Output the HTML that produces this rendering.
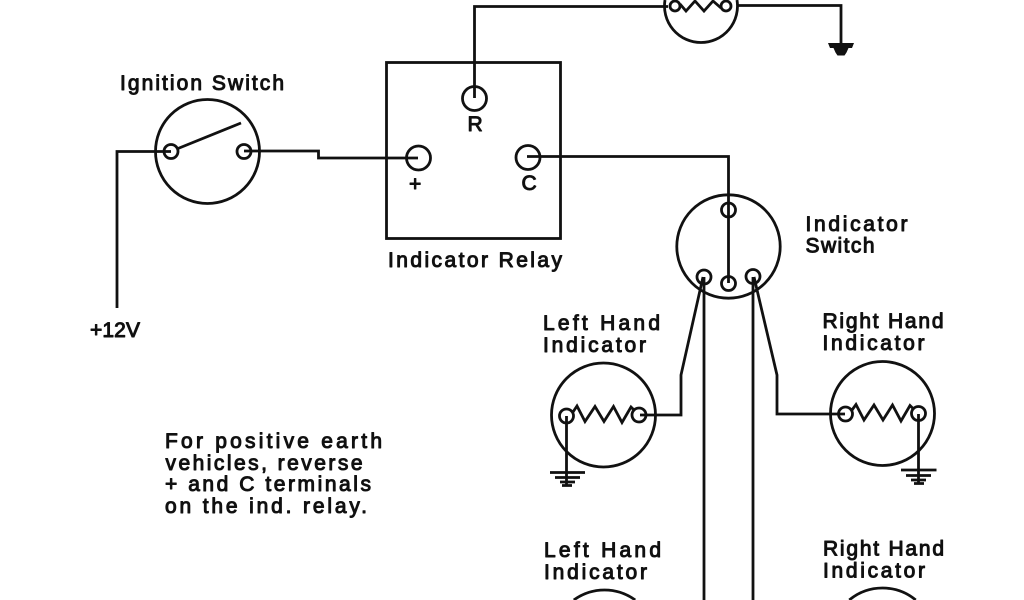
<!DOCTYPE html>
<html>
<head>
<meta charset="utf-8">
<style>
html,body{margin:0;padding:0;background:#fff;width:1024px;height:600px;overflow:hidden}
svg{display:block}
text{font-family:"Liberation Sans",sans-serif;font-size:21px;fill:#111;stroke:#111;stroke-width:1px;stroke-linejoin:round}
.w,.c,.t{fill:none;stroke:#111;stroke-width:2.8}
</style>
</head>
<body>
<svg width="1024" height="600" viewBox="0 0 1024 600" xmlns="http://www.w3.org/2000/svg">
<rect width="1024" height="600" fill="#fff"/>

<!-- Ignition switch -->
<circle class="c" cx="207.500" cy="151.500" r="52"/>
<circle class="t" cx="171" cy="151.500" r="7"/>
<circle class="t" cx="244" cy="151.500" r="7"/>
<path class="w" d="M178 148.500L241 123"/>
<path class="w" d="M117 308V151.500H171"/>
<path class="w" d="M244 151H318.500V158H418"/>

<!-- Relay -->
<rect class="w" x="386.500" y="62.500" width="174" height="176"/>
<circle class="c" cx="474.500" cy="98.500" r="12"/>
<circle class="c" cx="418.500" cy="158" r="12"/>
<circle class="c" cx="528" cy="157.500" r="12"/>
<path class="w" d="M474.500 98V6.500H668"/>
<path class="w" d="M527 156.500H728.500V210"/>

<!-- Top lamp -->
<path class="c" d="M665 0A36.500 36.500 0 1 0 737 0"/>
<circle class="t" cx="675" cy="6" r="5"/>
<circle class="t" cx="726" cy="6" r="5"/>
<path class="w" d="M680 4L686 11L695 1L704 11L713 1L721 8"/>
<path class="w" d="M737 5.500H841V44"/>
<path d="M828 43H854L852 48H848.500L846.500 52.500L844.500 55.500H837.500L835.500 52.500L833.500 48H830Z" fill="#111"/>

<!-- Indicator switch -->
<circle class="c" cx="728.500" cy="246.500" r="51.700"/>
<circle class="t" cx="728.500" cy="210" r="7"/>
<circle class="t" cx="728.500" cy="283.500" r="7"/>
<circle class="t" cx="704" cy="277" r="7"/>
<circle class="t" cx="753" cy="276.500" r="7"/>
<path class="w" d="M728.500 210V283"/>
<path class="w" d="M704 277V600"/>
<path class="w" d="M753 277V600"/>
<path class="w" d="M703 277L681 375V415H640"/>
<path class="w" d="M754 277L777 375V414H845"/>

<!-- Left lamp upper -->
<circle class="c" cx="603.500" cy="415" r="52"/>
<circle class="t" cx="566.500" cy="416" r="7"/>
<circle class="t" cx="639" cy="415" r="7"/>
<path class="w" d="M573 412L577 406L585 421.500L595 406.500L604 421.500L613.500 406.500L622 422.500L631 407L634 410"/>
<path class="w" d="M566.500 416V485"/>
<path class="w" d="M550 472.500H585M555 477.500H580M560 482H575M562 485.500H572"/>

<!-- Right lamp upper -->
<circle class="c" cx="882.500" cy="413.500" r="52"/>
<circle class="t" cx="845.500" cy="414" r="7"/>
<circle class="t" cx="918.500" cy="413.500" r="7"/>
<path class="w" d="M852 410L856 404.500L864 420L874 405L883 420L892.500 405L901 421L910 405.500L913 408.500"/>
<path class="w" d="M918.500 414V483"/>
<path class="w" d="M901 470H936.500M906 475.500H931M911 480H926M914 483.500H924"/>

<!-- Lower lamps -->
<path class="c" d="M573.800 600A52 52 0 0 1 635.200 600"/>
<path class="c" d="M849.300 600A52 52 0 0 1 915.700 600"/>

<!-- Labels -->
<text x="120" y="90" textLength="164">Ignition Switch</text>
<text x="467.500" y="131" textLength="14">R</text>
<text x="409" y="191" textLength="13">+</text>
<text x="521.500" y="190" textLength="15">C</text>
<text x="388" y="267" textLength="174">Indicator Relay</text>
<text x="805.500" y="231" textLength="102">Indicator</text>
<text x="805.500" y="252.500" textLength="69">Switch</text>
<text x="543" y="330" textLength="117">Left Hand</text>
<text x="543" y="352" textLength="103">Indicator</text>
<text x="544" y="557" textLength="117">Left Hand</text>
<text x="544" y="579" textLength="103">Indicator</text>
<text x="822.500" y="328" textLength="121">Right Hand</text>
<text x="822.500" y="350" textLength="102">Indicator</text>
<text x="823" y="555.500" textLength="121">Right Hand</text>
<text x="823" y="577.500" textLength="102">Indicator</text>
<text x="90" y="337" textLength="50">+12V</text>
<text x="165" y="448" textLength="217">For positive earth</text>
<text x="165.500" y="470" textLength="197">vehicles, reverse</text>
<text x="165" y="491" textLength="206">+ and C terminals</text>
<text x="165" y="513" textLength="202">on the ind. relay.</text>
</svg>
</body>
</html>
